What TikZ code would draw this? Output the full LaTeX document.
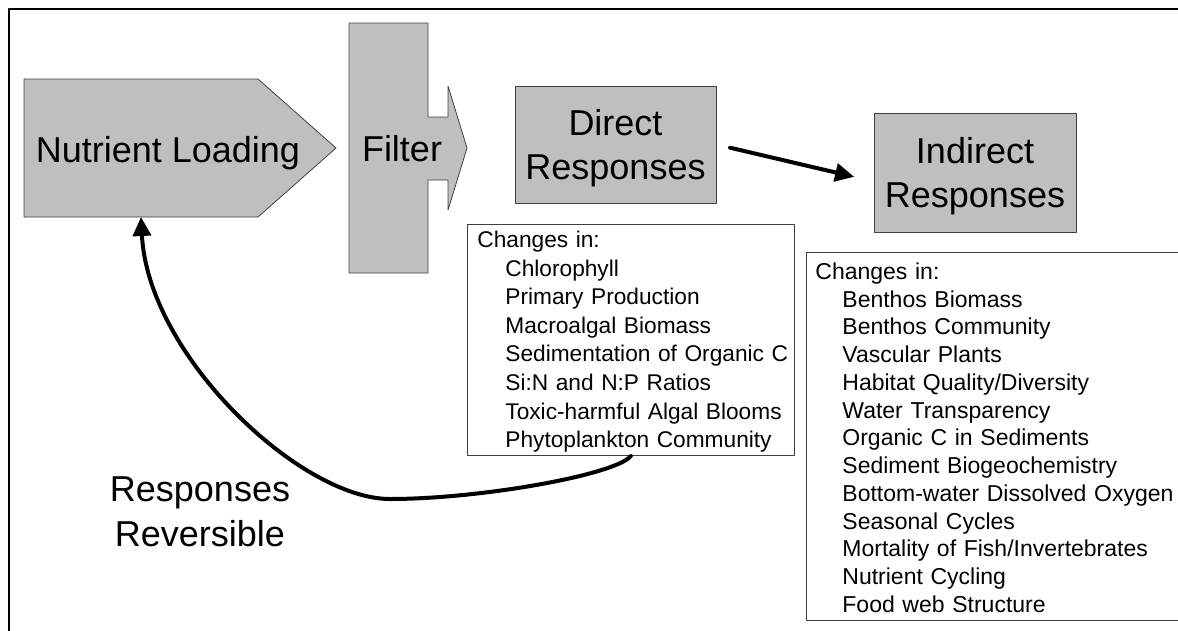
\documentclass[tikz,border=0pt]{standalone}
\usepackage{fontspec}
\setmainfont{Liberation Sans}
\usetikzlibrary{arrows.meta}
\definecolor{cqcqcq}{rgb}{0.75,0.75,0.75}
\definecolor{sqsqsq}{rgb}{0.25,0.25,0.25}

\begin{document}
\begin{tikzpicture}[line cap=round,line join=round,>={Triangle[length=19pt,width=18pt]},x=1pt,y=-1pt,
  bigbox/.style={draw=sqsqsq,fill=cqcqcq,line width=0.8pt,align=center,text depth=0pt,font=\fontsize{36}{44.5}\selectfont},
  bigtext/.style={align=center,font=\fontsize{36}{45}\selectfont},
  listbox/.style={draw=sqsqsq,fill=white,line width=0.8pt,align=left,anchor=north west,inner ysep=0pt}]
\useasboundingbox (0,0) rectangle (1178,630);
\clip (0,0) rectangle (1178,630);
\draw [line width=2pt] (9,640) -- (9,9) -- (1190,9);
\draw [line width=0.8pt,color=sqsqsq,fill=cqcqcq] (24,79) -- (258,79) -- (336,148) -- (258,217) -- (24,217) -- cycle;
\draw (168,153) node[bigtext] (load) {Nutrient Loading};
\coordinate (loadbot) at (141,217);
\draw [line width=0.8pt,color=sqsqsq,fill=cqcqcq] (349,23) -- (428,23) -- (428,117) -- (448,117) -- (448,86) -- (467,148) -- (448,210) -- (448,180) -- (428,180) -- (428,273) -- (349,273) -- cycle;
\draw (402,149) node[bigtext] (filter) {Filter};
\node[bigbox,minimum width=201pt,minimum height=117pt] (direct) at (615.5,144.5) {Direct\\Responses};
\node[bigbox,minimum width=202pt,minimum height=119pt] (indirect) at (975,172.5) {Indirect\\Responses};
\draw [->,line width=4pt,shorten <=14pt,shorten >=20pt] (direct.east) -- (indirect.185);
\node[listbox,inner xsep=6pt,text width=315pt,font=\fontsize{22.7}{28.6}\selectfont] (dlist) at (467,224) {\rule{0pt}{23pt}\hspace*{4pt}Changes in:\\
\hspace*{32pt}Chlorophyll\\
\hspace*{32pt}Primary Production\\
\hspace*{32pt}Macroalgal Biomass\\
\hspace*{32pt}Sedimentation of Organic C\\
\hspace*{32pt}Si:N and N:P Ratios\\
\hspace*{32pt}Toxic-harmful Algal Blooms\\
\hspace*{32pt}Phytoplankton Community\rule[-8pt]{0pt}{8pt}};
\node[listbox,inner xsep=9pt,text width=390pt,font=\fontsize{23}{27.75}\selectfont] (ilist) at (806,252) {\rule{0pt}{27pt}Changes in:\\
\hspace*{27pt}Benthos Biomass\\
\hspace*{27pt}Benthos Community\\
\hspace*{27pt}Vascular Plants\\
\hspace*{27pt}Habitat Quality/Diversity\\
\hspace*{27pt}Water Transparency\\
\hspace*{27pt}Organic C in Sediments\\
\hspace*{27pt}Sediment Biogeochemistry\\
\hspace*{27pt}Bottom-water Dissolved Oxygen\\
\hspace*{27pt}Seasonal Cycles\\
\hspace*{27pt}Mortality of Fish/Invertebrates\\
\hspace*{27pt}Nutrient Cycling\\
\hspace*{27pt}Food web Structure\rule[-8pt]{0pt}{8pt}};
\coordinate (lowpt) at (390,499);
\draw [->,line width=4pt] (dlist.south) .. controls (615,475) and (480,499) .. (lowpt) .. controls (300,499) and (148,355) .. (loadbot);
\node[bigtext] (rev) at (200,512) {Responses\\Reversible};
\end{tikzpicture}
\end{document}
